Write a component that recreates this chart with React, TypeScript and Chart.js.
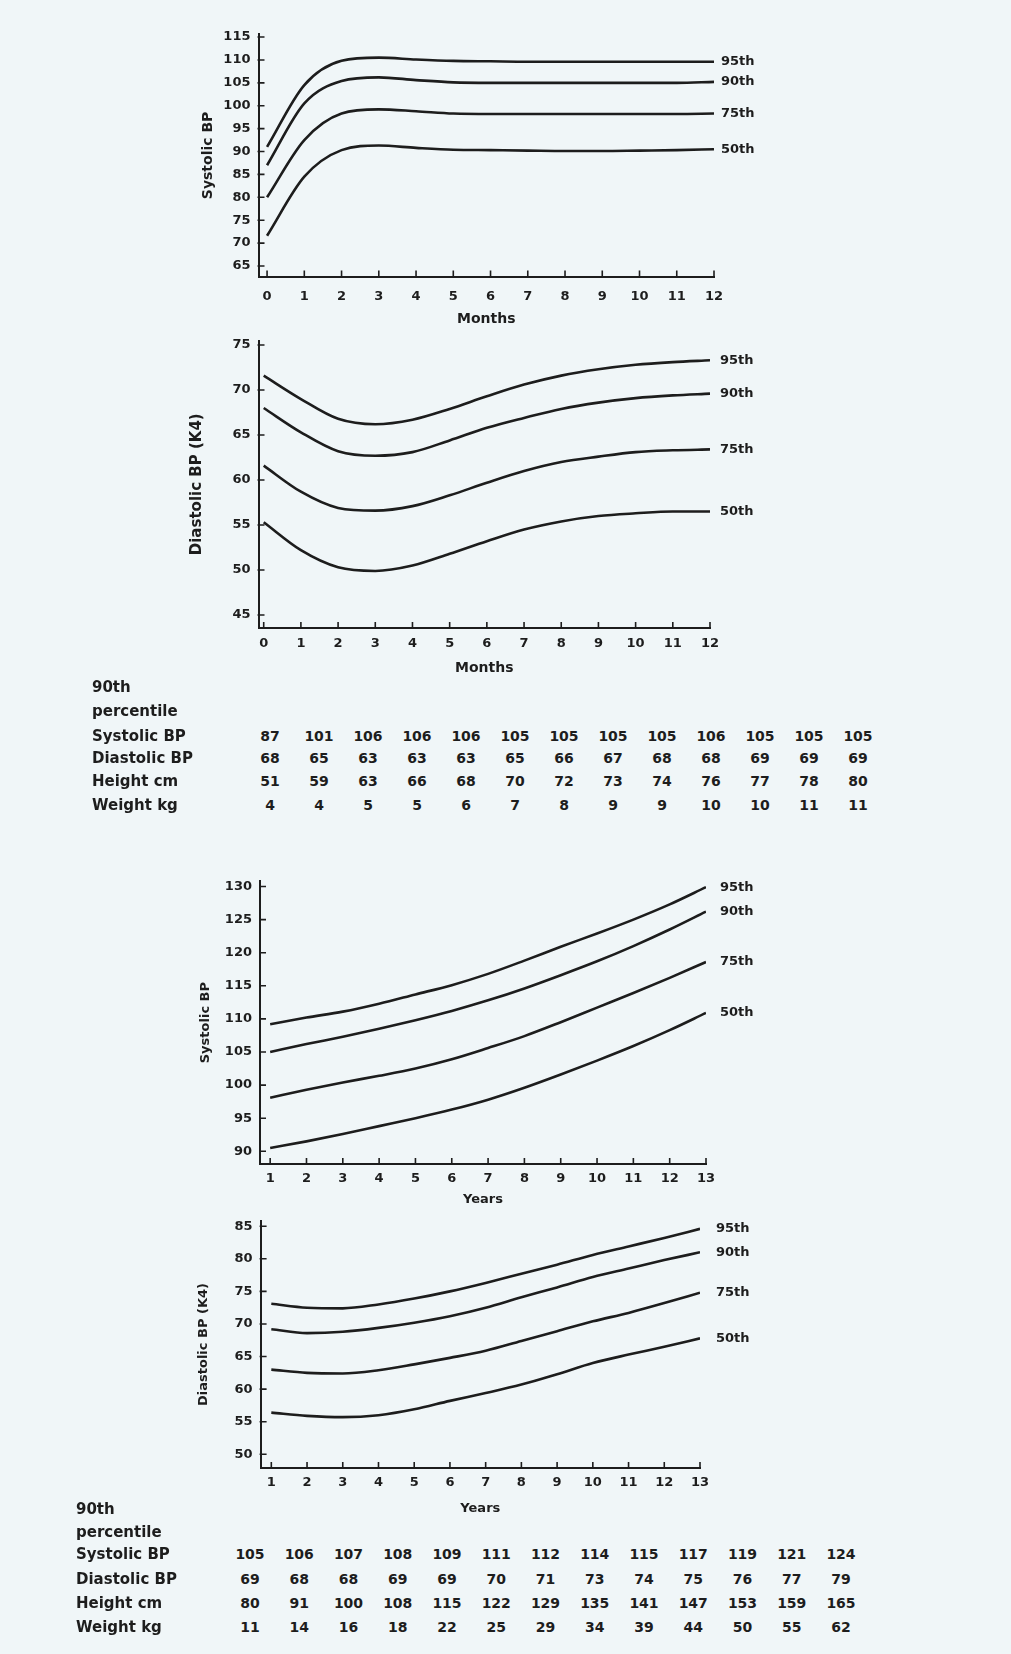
import React, { useEffect, useRef } from 'react';
import { Chart, registerables } from 'chart.js';
Chart.register(...registerables);

// ---------- data ----------
const months = [0, 1, 2, 3, 4, 5, 6, 7, 8, 9, 10, 11, 12];
const years = [1, 2, 3, 4, 5, 6, 7, 8, 9, 10, 11, 12, 13];
const percentileNames = ['95th', '90th', '75th', '50th'];

const sysInf95 = [91, 104.5, 109.8, 110.5, 110.1, 109.8, 109.7, 109.6, 109.6, 109.6, 109.6, 109.6, 109.6];
const sysInf90 = [87, 100.5, 105.4, 106.2, 105.6, 105.1, 105, 105, 105, 105, 105, 105, 105.2];
const sysInf75 = [80, 92.5, 98.3, 99.2, 98.8, 98.3, 98.2, 98.2, 98.2, 98.2, 98.2, 98.2, 98.3];
const sysInf50 = [71.6, 84.5, 90.3, 91.3, 90.8, 90.4, 90.3, 90.2, 90.1, 90.1, 90.2, 90.3, 90.5];

const diaInf95 = [71.6, 69.0, 66.8, 66.2, 66.7, 67.9, 69.3, 70.6, 71.6, 72.3, 72.8, 73.1, 73.3];
const diaInf90 = [68, 65.3, 63.2, 62.7, 63.1, 64.4, 65.8, 66.9, 67.9, 68.6, 69.1, 69.4, 69.6];
const diaInf75 = [61.6, 58.7, 56.9, 56.6, 57.1, 58.3, 59.7, 61, 62, 62.6, 63.1, 63.3, 63.4];
const diaInf50 = [55.3, 52.2, 50.3, 49.9, 50.5, 51.8, 53.2, 54.5, 55.4, 56, 56.3, 56.5, 56.5];

const sysCh95 = [109.2, 110.2, 111.1, 112.3, 113.7, 115.1, 116.8, 118.8, 120.9, 122.9, 125, 127.3, 129.9];
const sysCh90 = [105, 106.2, 107.3, 108.5, 109.8, 111.2, 112.8, 114.6, 116.6, 118.7, 121, 123.5, 126.2];
const sysCh75 = [98.1, 99.3, 100.4, 101.4, 102.5, 103.9, 105.6, 107.4, 109.5, 111.7, 113.9, 116.2, 118.6];
const sysCh50 = [90.5, 91.5, 92.6, 93.8, 95, 96.3, 97.8, 99.6, 101.6, 103.7, 105.9, 108.3, 110.9];

const diaCh95 = [73.1, 72.5, 72.4, 73, 73.9, 75, 76.3, 77.7, 79.1, 80.6, 81.9, 83.2, 84.6];
const diaCh90 = [69.2, 68.6, 68.8, 69.4, 70.2, 71.2, 72.5, 74.1, 75.6, 77.2, 78.5, 79.8, 81.0];
const diaCh75 = [63, 62.5, 62.4, 62.9, 63.8, 64.8, 65.9, 67.4, 68.9, 70.4, 71.7, 73.2, 74.8];
const diaCh50 = [56.4, 55.9, 55.7, 56, 56.9, 58.2, 59.4, 60.7, 62.3, 64, 65.3, 66.5, 67.8];

const ticksSysInf = [65, 70, 75, 80, 85, 90, 95, 100, 105, 110, 115];
const ticksDiaInf = [45, 50, 55, 60, 65, 70, 75];
const ticksSysCh = [90, 95, 100, 105, 110, 115, 120, 125, 130];
const ticksDiaCh = [50, 55, 60, 65, 70, 75, 80, 85];

const tableRowLabels = ['Systolic BP', 'Diastolic BP', 'Height cm', 'Weight kg'];
const inf90Sys = [87, 101, 106, 106, 106, 105, 105, 105, 105, 106, 105, 105, 105];
const inf90Dia = [68, 65, 63, 63, 63, 65, 66, 67, 68, 68, 69, 69, 69];
const inf90Ht = [51, 59, 63, 66, 68, 70, 72, 73, 74, 76, 77, 78, 80];
const inf90Wt = [4, 4, 5, 5, 6, 7, 8, 9, 9, 10, 10, 11, 11];
const ch90Sys = [105, 106, 107, 108, 109, 111, 112, 114, 115, 117, 119, 121, 124];
const ch90Dia = [69, 68, 68, 69, 69, 70, 71, 73, 74, 75, 76, 77, 79];
const ch90Ht = [80, 91, 100, 108, 115, 122, 129, 135, 141, 147, 153, 159, 165];
const ch90Wt = [11, 14, 16, 18, 22, 25, 29, 34, 39, 44, 50, 55, 62];

// ---------- style ----------
const FONT = '"DejaVu Sans", "Liberation Sans", sans-serif';
const INK = '#1d1d1d';
const BG = '#f0f6f8';
const PAGE_W = 1011;

type Spec = {
  xs: number[];
  series: number[][];
  xMin: number; xMax: number; yMin: number; yMax: number;
  xTicks: number[]; yTicks: number[];
  area: { left: number; right: number; top: number; bottom: number };
  yTitle: string; yTitleX: number; yTitleSize: number;
  xTitle: string; xTitleY: number; xTitleSize: number;
  xTickPad: number;
  labelX: number;
};

const specs: Spec[] = [
  {
    xs: months, series: [sysInf95, sysInf90, sysInf75, sysInf50],
    xMin: -0.23, xMax: 12, yMin: 62.7, yMax: 115.6,
    xTicks: months, yTicks: ticksSysInf,
    area: { left: 258.5, right: 714, top: 34.3, bottom: 276.5 },
    yTitle: 'Systolic BP', yTitleX: 208, yTitleSize: 14,
    xTitle: 'Months', xTitleY: 319, xTitleSize: 14,
    xTickPad: 12, labelX: 721,
  },
  {
    xs: months, series: [diaInf95, diaInf90, diaInf75, diaInf50],
    xMin: -0.14, xMax: 12, yMin: 43.56, yMax: 75.5,
    xTicks: months, yTicks: ticksDiaInf,
    area: { left: 258.5, right: 710, top: 340.5, bottom: 628 },
    yTitle: 'Diastolic BP (K4)', yTitleX: 197, yTitleSize: 15,
    xTitle: 'Months', xTitleY: 668, xTitleSize: 14,
    xTickPad: 8, labelX: 720,
  },
  {
    xs: years, series: [sysCh95, sysCh90, sysCh75, sysCh50],
    xMin: 0.72, xMax: 13, yMin: 88.08, yMax: 130.8,
    xTicks: years, yTicks: ticksSysCh,
    area: { left: 260, right: 706, top: 881.2, bottom: 1164 },
    yTitle: 'Systolic BP', yTitleX: 206, yTitleSize: 13,
    xTitle: 'Years', xTitleY: 1200, xTitleSize: 13,
    xTickPad: 7, labelX: 720,
  },
  {
    xs: years, series: [diaCh95, diaCh90, diaCh75, diaCh50],
    xMin: 0.7, xMax: 13, yMin: 47.9, yMax: 85.8,
    xTicks: years, yTicks: ticksDiaCh,
    area: { left: 260.6, right: 700, top: 1221, bottom: 1468 },
    yTitle: 'Diastolic BP (K4)', yTitleX: 204, yTitleSize: 13,
    xTitle: 'Years', xTitleY: 1509, xTitleSize: 13,
    xTickPad: 7, labelX: 716,
  },
];

const PAD_TOP = 20;

function geometry(s: Spec) {
  const canvasTop = Math.round(s.area.top - PAD_TOP);
  const lhX = s.xTitleSize * 1.2;
  const lhY = s.yTitleSize * 1.2;
  const scaleXBottom = s.xTitleY + lhX / 2;
  const canvasH = Math.ceil(scaleXBottom + 4 - canvasTop);
  const padTop = s.area.top - canvasTop;
  const padBottom = canvasTop + canvasH - scaleXBottom;
  const padLeft = s.yTitleX - lhY / 2;
  const padRight = PAGE_W - s.area.right;
  const yW = s.area.left - padLeft;
  const xH = scaleXBottom - s.area.bottom;
  return { canvasTop, canvasH, padTop, padBottom, padLeft, padRight, yW, xH };
}

function LineChart({ spec }: { spec: Spec }) {
  const ref = useRef<HTMLCanvasElement>(null);
  const g = geometry(spec);
  useEffect(() => {
    if (!ref.current) return;
    const s = spec;
    const tickFont = { family: FONT, size: 13, weight: 'bold' as const };
    const overlay = {
      id: 'overlay',
      afterDraw(chart: any) {
        const ctx = chart.ctx;
        const xs = chart.scales.x;
        const ys = chart.scales.y;
        const a = chart.chartArea;
        ctx.save();
        ctx.strokeStyle = INK;
        ctx.lineWidth = 1.6;
        ctx.beginPath();
        s.yTicks.forEach((v) => {
          const py = ys.getPixelForValue(v);
          ctx.moveTo(a.left - 1, py);
          ctx.lineTo(a.left + 6, py);
        });
        s.xTicks.forEach((v) => {
          const px = xs.getPixelForValue(v);
          ctx.moveTo(px, a.bottom + 1);
          ctx.lineTo(px, a.bottom - 6);
        });
        ctx.stroke();
        ctx.fillStyle = INK;
        ctx.font = `bold 13px ${FONT}`;
        ctx.textAlign = 'left';
        ctx.textBaseline = 'middle';
        chart.data.datasets.forEach((ds: any, i: number) => {
          const last = ds.data[ds.data.length - 1];
          const py = ys.getPixelForValue(last.y);
          ctx.fillText(percentileNames[i], s.labelX, py);
        });
        ctx.restore();
      },
    };
    const chart = new Chart(ref.current, {
      type: 'line',
      data: {
        datasets: s.series.map((vals, i) => ({
          label: percentileNames[i],
          data: s.xs.map((x, j) => ({ x, y: vals[j] })),
          borderColor: INK,
          borderWidth: 2.6,
          pointRadius: 0,
          fill: false,
          cubicInterpolationMode: 'monotone' as const,
        })),
      },
      options: {
        animation: false,
        responsive: false,
        devicePixelRatio: 1,
        layout: { padding: { left: g.padLeft, right: g.padRight, top: g.padTop, bottom: g.padBottom } },
        plugins: { legend: { display: false }, tooltip: { enabled: false } },
        scales: {
          x: {
            type: 'linear',
            min: s.xMin,
            max: s.xMax,
            afterBuildTicks: (sc: any) => { sc.ticks = s.xTicks.map((v) => ({ value: v })); },
            afterFit: (sc: any) => { sc.height = g.xH; },
            grid: { display: false, drawTicks: false },
            border: { display: true, color: INK, width: 2 },
            ticks: { padding: s.xTickPad, color: INK, font: tickFont, autoSkip: false, maxRotation: 0 },
            title: { display: true, text: s.xTitle, color: INK, padding: 0, font: { family: FONT, size: s.xTitleSize, weight: 'bold' } },
          },
          y: {
            type: 'linear',
            min: s.yMin,
            max: s.yMax,
            afterBuildTicks: (sc: any) => { sc.ticks = s.yTicks.map((v) => ({ value: v })); },
            afterFit: (sc: any) => { sc.width = g.yW; },
            grid: { display: false, drawTicks: false },
            border: { display: true, color: INK, width: 2 },
            ticks: { padding: 8, color: INK, font: tickFont, autoSkip: false },
            title: { display: true, text: s.yTitle, color: INK, padding: 0, font: { family: FONT, size: s.yTitleSize, weight: 'bold' } },
          },
        },
      },
      plugins: [overlay],
    } as any);
    return () => chart.destroy();
  }, []);
  return (
    <canvas
      ref={ref}
      width={PAGE_W}
      height={g.canvasH}
      style={{ position: 'absolute', left: 0, top: g.canvasTop, width: PAGE_W, height: g.canvasH }}
    />
  );
}

type TableSpec = {
  labelX: number;
  headY: number[];
  rowY: number[];
  colX0: number;
  colStep: number;
  rows: number[][];
};

const tables: TableSpec[] = [
  { labelX: 92, headY: [687, 711], rowY: [735.5, 758, 781, 805], colX0: 270, colStep: 49, rows: [inf90Sys, inf90Dia, inf90Ht, inf90Wt] },
  { labelX: 76, headY: [1509, 1532], rowY: [1554, 1579, 1603, 1627], colX0: 250, colStep: 49.25, rows: [ch90Sys, ch90Dia, ch90Ht, ch90Wt] },
];

const textStyle: React.CSSProperties = {
  position: 'absolute',
  fontFamily: FONT,
  fontWeight: 'bold',
  fontSize: 14,
  lineHeight: '18px',
  height: 18,
  color: INK,
  whiteSpace: 'nowrap',
};

const labelStyle: React.CSSProperties = { ...textStyle, fontSize: 15 };

function DataTable({ t }: { t: TableSpec }) {
  return (
    <>
      <div style={{ ...labelStyle, left: t.labelX, top: t.headY[0] - 9 }}>90th</div>
      <div style={{ ...labelStyle, left: t.labelX, top: t.headY[1] - 9 }}>percentile</div>
      {tableRowLabels.map((lab, r) => (
        <div key={'l' + r} style={{ ...labelStyle, left: t.labelX, top: t.rowY[r] - 9 }}>{lab}</div>
      ))}
      {t.rows.map((vals, r) =>
        vals.map((v, c) => (
          <div
            key={r + '-' + c}
            style={{ ...textStyle, left: t.colX0 + c * t.colStep, top: t.rowY[r] - 9, transform: 'translateX(-50%)' }}
          >
            {v}
          </div>
        ))
      )}
    </>
  );
}

export default function App() {
  useEffect(() => {
    document.body.style.margin = '0';
    document.body.style.background = BG;
  }, []);
  return (
    <div style={{ position: 'absolute', left: 0, top: 0, width: PAGE_W, height: 1654, background: BG, overflow: 'hidden' }}>
      {specs.map((s, i) => (
        <LineChart key={i} spec={s} />
      ))}
      {tables.map((t, i) => (
        <DataTable key={'t' + i} t={t} />
      ))}
    </div>
  );
}
